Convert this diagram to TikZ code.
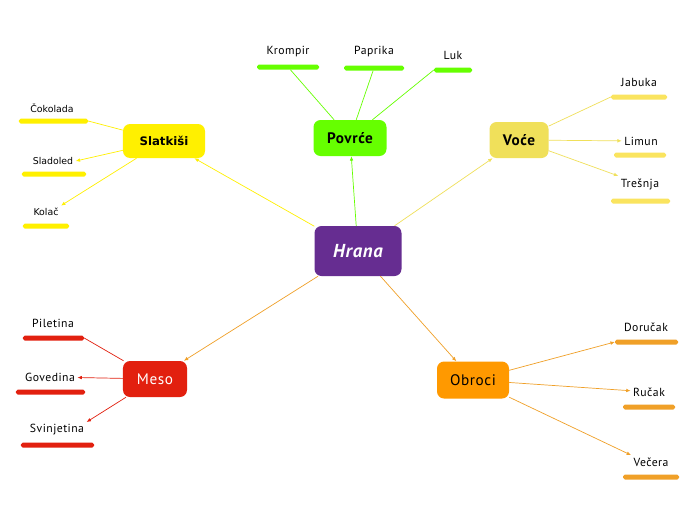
\documentclass[tikz,border=0pt]{standalone}
\usepackage{fontspec}
\setmainfont{PT Sans}
\newfontfamily\spaced[LetterSpace=4]{PT Sans}
\newfontfamily\verdana{DejaVu Sans}
\usepackage{xcolor}
\usetikzlibrary{arrows.meta}
\definecolor{hranapurple}{RGB}{102,45,145}
\definecolor{sweetyellow}{RGB}{255,240,0}
\definecolor{veggreen}{RGB}{102,255,0}
\definecolor{fruityellow}{RGB}{240,224,90}
\definecolor{fruitbar}{RGB}{250,228,95}
\definecolor{meatred}{RGB}{226,32,15}
\definecolor{mealorange}{RGB}{255,153,0}
\definecolor{mealbar}{RGB}{240,160,40}
\tikzset{topic/.style={rectangle, rounded corners=6pt, align=center, inner sep=0pt, minimum height=1.08cm, font=\spaced\fontsize{13}{15}\selectfont}, leaf/.style={inner sep=2pt, font=\spaced\fontsize{10}{12}\selectfont}, sweetleaf/.style={inner sep=2pt, font=\verdana\fontsize{8}{10}\selectfont}, bar/.style={rectangle, rounded corners=1.5pt, inner sep=0pt, minimum height=0.15cm}, link/.style={line width=0.6pt}, arrow/.style={link, -{Latex[length=1.3mm,width=1.1mm]}}}

\begin{document}
\begin{tikzpicture}[x=0.03cm, y=-0.03cm]
\fill[white] (0,0) rectangle (696,520);
\useasboundingbox (0,0) rectangle (696,520);
\node[topic, fill=hranapurple, text=white, minimum width=2.61cm, minimum height=1.5cm, font=\spaced\fontsize{16}{18}\selectfont\bfseries\itshape] (hrana) at (358,251) {Hrana};
\node[topic, fill=sweetyellow, minimum width=2.46cm, minimum height=1.02cm, font=\verdana\bfseries\fontsize{10}{12}\selectfont] (slatkisi) at (164,141) {Slatkiši};
\node[topic, fill=veggreen, minimum width=2.19cm] (povrce) at (350,138) {\bfseries Povrće};
\node[topic, fill=fruityellow, minimum width=1.77cm] (voce) at (519,140) {\bfseries Voće};
\node[topic, fill=meatred, text=white, minimum width=1.92cm] (meso) at (155,379) {Meso};
\node[topic, fill=mealorange, minimum width=2.16cm, minimum height=1.11cm] (obroci) at (473,380) {Obroci};

\node[sweetleaf] (cokolada) at (52,108) {Čokolada};
\node[bar, fill=sweetyellow, minimum width=2.07cm] (cokoladaBar) at (53.5,121) {};
\node[sweetleaf] (sladoled) at (53,161) {Sladoled};
\node[bar, fill=sweetyellow, minimum width=1.92cm] (sladoledBar) at (54,174) {};
\node[sweetleaf] (kolac) at (46,212) {Kolač};
\node[bar, fill=sweetyellow, minimum width=1.38cm] (kolacBar) at (46,226) {};

\node[leaf] (krompir) at (288,52) {Krompir};
\node[bar, fill=veggreen, minimum width=1.86cm] (krompirBar) at (288,67) {};
\node[leaf] (paprika) at (374,52) {Paprika};
\node[bar, fill=veggreen, minimum width=1.8cm] (paprikaBar) at (374,68) {};
\node[leaf] (luk) at (453,55) {Luk};
\node[bar, fill=veggreen, minimum width=1.14cm] (lukBar) at (453,70) {};

\node[leaf] (jabuka) at (639,82) {Jabuka};
\node[bar, fill=fruitbar, minimum width=1.68cm] (jabukaBar) at (639,97) {};
\node[leaf] (limun) at (641,141) {Limun};
\node[bar, fill=fruitbar, minimum width=1.56cm] (limunBar) at (640,155) {};
\node[leaf] (tresnja) at (640,184) {Trešnja};
\node[bar, fill=fruitbar, minimum width=1.77cm] (tresnjaBar) at (640.5,201) {};

\node[leaf] (piletina) at (53,323) {Piletina};
\node[bar, fill=meatred, minimum width=1.83cm] (piletinaBar) at (53.5,338) {};
\node[leaf] (govedina) at (50,377) {Govedina};
\node[bar, fill=meatred, minimum width=2.07cm] (govedinaBar) at (50.5,392) {};
\node[leaf] (svinjetina) at (57,430) {Svinjetina};
\node[bar, fill=meatred, minimum width=2.19cm] (svinjetinaBar) at (57.5,445) {};

\node[leaf] (dorucak) at (646,327) {Doručak};
\node[bar, fill=mealbar, minimum width=1.89cm] (dorucakBar) at (646.5,342) {};
\node[leaf] (rucak) at (649,392) {Ručak};
\node[bar, fill=mealbar, minimum width=1.56cm] (rucakBar) at (649,407) {};
\node[leaf] (vecera) at (651,462) {Večera};
\node[bar, fill=mealbar, minimum width=1.68cm] (veceraBar) at (651,477) {};

\draw[arrow, sweetyellow] (hrana) -- (slatkisi);
\draw[arrow, veggreen] (hrana) -- (povrce);
\draw[arrow, fruityellow] (hrana) -- (voce);
\draw[arrow, mealbar] (hrana) -- (meso);
\draw[arrow, mealbar] (hrana) -- (obroci);

\draw[link, sweetyellow] (slatkisi) -- (cokoladaBar.east);
\draw[arrow, sweetyellow] (slatkisi) -- (sladoled.east);
\draw[arrow, sweetyellow] (slatkisi) -- (kolac.north east);

\draw[link, veggreen] (povrce) -- (krompirBar);
\draw[link, veggreen] (povrce) -- (paprikaBar);
\draw[link, veggreen] (povrce) -- (lukBar.west);

\draw[link, fruityellow] (voce) -- (jabukaBar.west);
\draw[arrow, fruityellow] (voce) -- (limun);
\draw[arrow, fruityellow] (voce) -- (tresnja.north west);

\draw[link, meatred] (meso) -- (piletinaBar.east);
\draw[arrow, meatred] (meso) -- (govedina);
\draw[arrow, meatred] (meso) -- (svinjetina.north east);

\draw[arrow, mealbar] (obroci) -- (dorucakBar.west);
\draw[arrow, mealbar] (obroci) -- (rucak);
\draw[arrow, mealbar] (obroci) -- (vecera.north west);
\end{tikzpicture}
\end{document}
